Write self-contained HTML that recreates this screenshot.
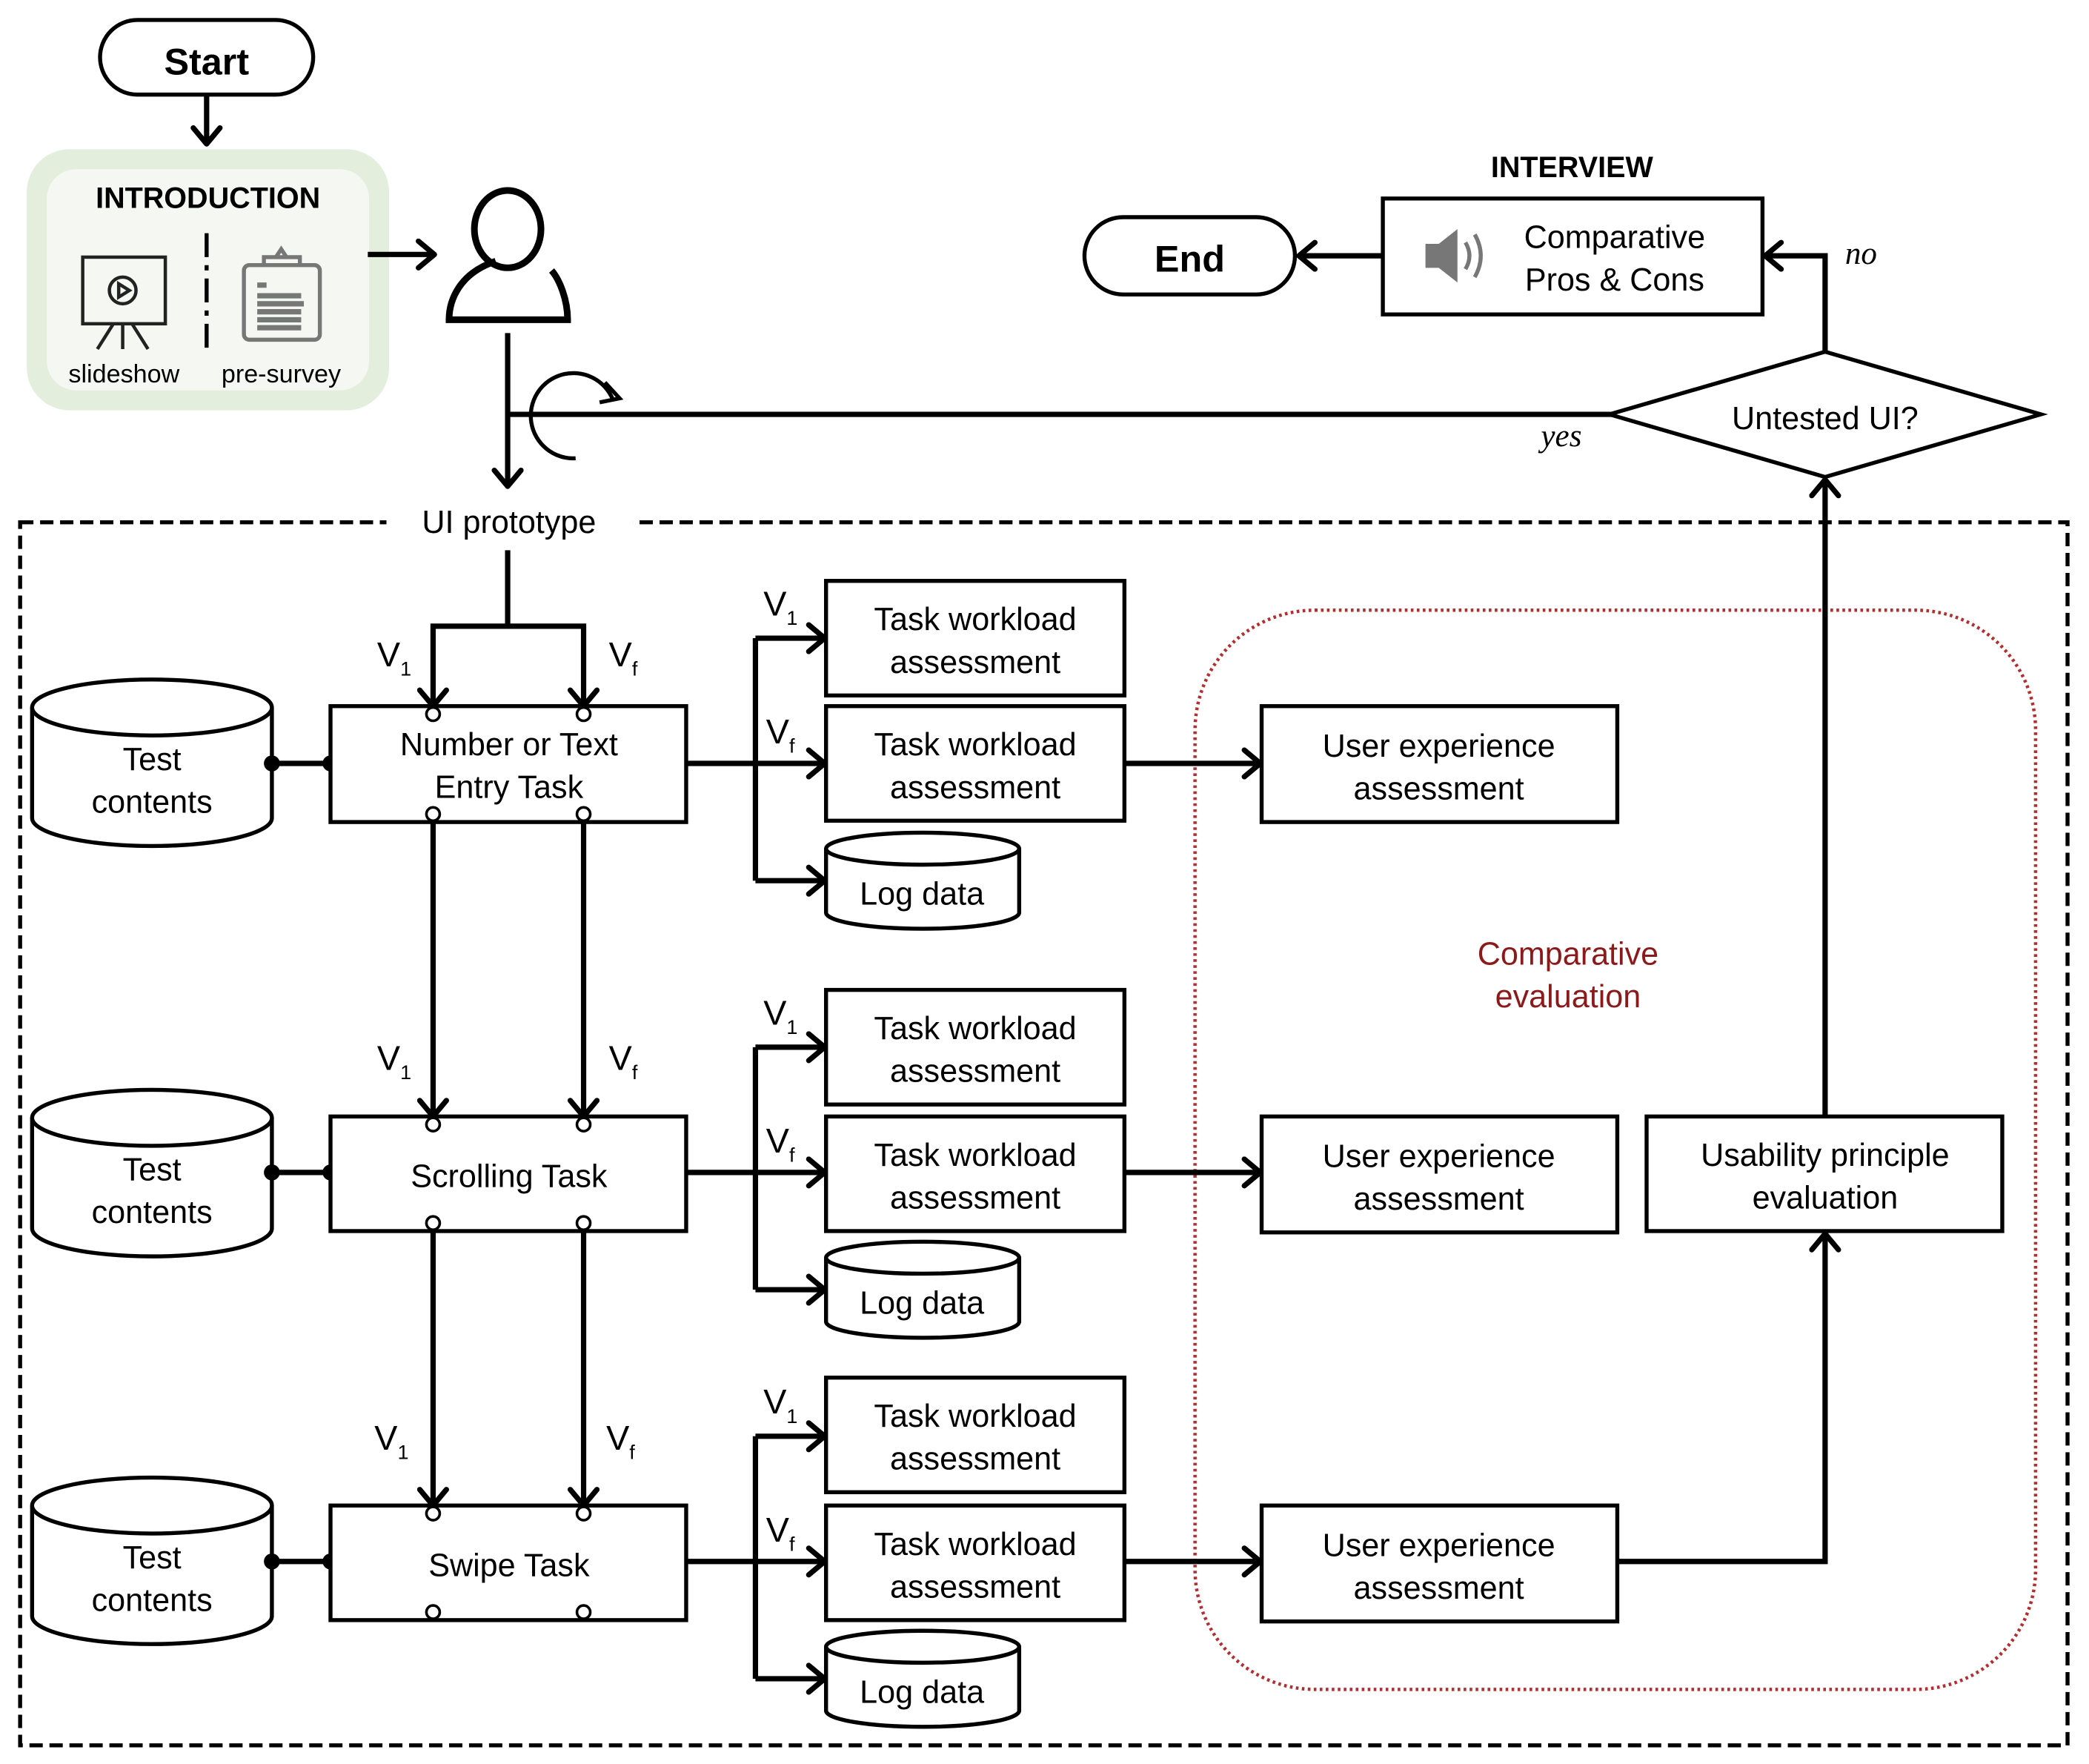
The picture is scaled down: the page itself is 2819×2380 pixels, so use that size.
<!DOCTYPE html>
<html><head><meta charset="utf-8"><style>
html,body{margin:0;padding:0;background:#fff}
svg{display:block}
text{font-family:"Liberation Sans",sans-serif;fill:#000}
</style></head><body>
<svg width="2819" height="2380" viewBox="0 0 1568 1324" xmlns="http://www.w3.org/2000/svg">
<defs>
<marker id="a" viewBox="0 0 20 24" refX="17" refY="12" markerWidth="20" markerHeight="24" orient="auto" markerUnits="userSpaceOnUse">
<path d="M5,2 L17,12 L5,22" fill="none" stroke="#000" stroke-width="4" stroke-linecap="round" stroke-linejoin="round"/>
</marker>
<g id="wl"><rect x="0" y="0" width="224" height="86" fill="#fff" stroke="#000" stroke-width="3"/><text x="112" y="37" font-size="24" text-anchor="middle">Task workload</text><text x="112" y="69" font-size="24" text-anchor="middle">assessment</text></g>
<g id="ux"><rect x="0" y="0" width="267" height="87" fill="#fff" stroke="#000" stroke-width="3"/><text x="133" y="38" font-size="24" text-anchor="middle">User experience</text><text x="133" y="70" font-size="24" text-anchor="middle">assessment</text></g>
<g id="log"><path d="M0,12 V60 A72,12 0 0 0 145,60 V12" fill="#fff" stroke="#000" stroke-width="3"/><ellipse cx="72.5" cy="12" rx="72.5" ry="12" fill="#fff" stroke="#000" stroke-width="3"/><text x="72" y="54" font-size="24" text-anchor="middle">Log data</text></g>
<g id="tc"><path d="M0,21 V104 A90,21 0 0 0 180,104 V21" fill="#fff" stroke="#000" stroke-width="3"/><ellipse cx="90" cy="21" rx="90" ry="21" fill="#fff" stroke="#000" stroke-width="3"/><text x="90" y="68" font-size="24" text-anchor="middle">Test</text><text x="90" y="100" font-size="24" text-anchor="middle">contents</text></g>
</defs>
<g stroke="#000" stroke-width="4" fill="none">
<rect x="75" y="15" width="160" height="56" rx="28" stroke-width="3"/>
<line x1="155" y1="72" x2="155" y2="108" marker-end="url(#a)"/>
</g>
<text x="155" y="56" font-size="28" font-weight="bold" text-anchor="middle">Start</text>
<rect x="20" y="112" width="272" height="196" rx="32" fill="#e3eedc"/>
<rect x="35" y="127" width="242" height="166" rx="22" fill="#f5f7f2"/>
<text x="156" y="156" font-size="22" font-weight="bold" text-anchor="middle">INTRODUCTION</text>
<line x1="155" y1="175" x2="155" y2="262" stroke="#000" stroke-width="3" stroke-dasharray="18,6,4,6"/>
<g stroke="#222" stroke-width="2.5" fill="none">
<rect x="62" y="193" width="62" height="50"/><circle cx="92" cy="218" r="10"/><path d="M89,213 L97,218 L89,223 Z"/>
<path d="M92,243 V262 M85,243 L73,262 M99,243 L111,262"/>
</g>
<g stroke="#777" fill="none">
<rect x="183" y="199" width="57" height="56" rx="4" stroke-width="3"/><path d="M198,199 V193 H225 V199 M207,193 L211,187 L215,193" stroke-width="3"/>
<path d="M193,214 H200 M193,222 H226 M193,228 H228 M193,234 H226 M193,240 H226 M193,246 H226" stroke-width="4"/>
</g>
<text x="93" y="287" font-size="19" text-anchor="middle">slideshow</text>
<text x="211" y="287" font-size="19" text-anchor="middle">pre-survey</text>
<g stroke="#000" stroke-width="4" fill="none">
<line x1="276" y1="191" x2="326" y2="191" marker-end="url(#a)"/>
<ellipse cx="381" cy="172" rx="25" ry="29" stroke-width="5"/>
<path d="M372,196 C345,205 337,225 337,240 H426 C426,225 420,210 414,203" stroke-width="5"/>
<line x1="381" y1="250" x2="381" y2="365" marker-end="url(#a)"/>
<path d="M460,300 A32,32 0 1 0 432,344" stroke-width="3"/>
<path d="M454,287 L465,299 L450,302" stroke-width="3"/>
<line x1="381" y1="311" x2="1210" y2="311"/>
<polygon points="1208,311 1370,264 1532,311 1370,358" fill="#fff" stroke-width="3"/>
<polyline points="1370,264 1370,192 1325,192" marker-end="url(#a)"/>
<rect x="1038" y="149" width="285" height="87" fill="#fff" stroke-width="3"/>
<line x1="1038" y1="192" x2="975" y2="192" marker-end="url(#a)"/>
<rect x="814" y="163" width="158" height="58" rx="29" stroke-width="3"/>
</g>
<text x="1370" y="322" font-size="24" text-anchor="middle">Untested UI?</text>
<text x="1172" y="335" font-size="24" font-style="italic" style="font-family:'Liberation Serif',serif" text-anchor="middle">yes</text>
<text x="1397" y="198" font-size="24" font-style="italic" style="font-family:'Liberation Serif',serif" text-anchor="middle">no</text>
<text x="1180" y="133" font-size="22" font-weight="bold" text-anchor="middle">INTERVIEW</text>
<path d="M1070,183 H1080 L1094,172 V212 L1080,201 H1070 Z" fill="#777"/>
<path d="M1100,182 Q1106,192 1100,202 M1107,176 Q1116,192 1107,208" stroke="#777" stroke-width="3" fill="none"/>
<text x="1212" y="186" font-size="24" text-anchor="middle">Comparative</text>
<text x="1212" y="218" font-size="24" text-anchor="middle">Pros &amp; Cons</text>
<text x="893" y="204" font-size="28" font-weight="bold" text-anchor="middle">End</text>
<rect x="15" y="392" width="1537" height="918" fill="none" stroke="#000" stroke-width="3" stroke-dasharray="10,5"/>
<rect x="290" y="378" width="185" height="30" fill="#fff"/>
<text x="382" y="400" font-size="24" text-anchor="middle">UI prototype</text>
<rect x="897" y="458" width="631" height="810" rx="90" fill="none" stroke="#b03030" stroke-width="2.5" stroke-dasharray="2,2.5"/>
<text x="1177" y="724" font-size="24" style="fill:#8b1a1a" text-anchor="middle">Comparative</text>
<text x="1177" y="756" font-size="24" style="fill:#8b1a1a" text-anchor="middle">evaluation</text>
<g stroke="#000" stroke-width="4" fill="none">
<polyline points="381,413 381,470 325,470 325,530" marker-end="url(#a)"/>
<polyline points="381,470 438,470 438,530" marker-end="url(#a)"/>
<line x1="325" y1="617" x2="325" y2="838" marker-end="url(#a)"/>
<line x1="438" y1="617" x2="438" y2="838" marker-end="url(#a)"/>
<line x1="325" y1="924" x2="325" y2="1130" marker-end="url(#a)"/>
<line x1="438" y1="924" x2="438" y2="1130" marker-end="url(#a)"/>
<polyline points="515,573 567,573"/><polyline points="567,479 567,661"/>
<line x1="567" y1="479" x2="619" y2="479" marker-end="url(#a)"/><line x1="567" y1="573" x2="619" y2="573" marker-end="url(#a)"/><line x1="567" y1="661" x2="619" y2="661" marker-end="url(#a)"/>
<polyline points="515,880 567,880"/><polyline points="567,786 567,968"/>
<line x1="567" y1="786" x2="619" y2="786" marker-end="url(#a)"/><line x1="567" y1="880" x2="619" y2="880" marker-end="url(#a)"/><line x1="567" y1="968" x2="619" y2="968" marker-end="url(#a)"/>
<polyline points="515,1172 567,1172"/><polyline points="567,1078 567,1260"/>
<line x1="567" y1="1078" x2="619" y2="1078" marker-end="url(#a)"/><line x1="567" y1="1172" x2="619" y2="1172" marker-end="url(#a)"/><line x1="567" y1="1260" x2="619" y2="1260" marker-end="url(#a)"/>
<line x1="844" y1="573" x2="946" y2="573" marker-end="url(#a)"/>
<line x1="844" y1="880" x2="946" y2="880" marker-end="url(#a)"/>
<line x1="844" y1="1172" x2="946" y2="1172" marker-end="url(#a)"/>
<polyline points="1214,1172 1370,1172 1370,926" marker-end="url(#a)"/>
<line x1="1370" y1="838" x2="1370" y2="360" marker-end="url(#a)"/>
<line x1="204" y1="573" x2="248" y2="573"/><line x1="204" y1="880" x2="248" y2="880"/><line x1="204" y1="1172" x2="248" y2="1172"/>
</g>
<use href="#tc" x="24" y="510"/><use href="#tc" x="24" y="818"/><use href="#tc" x="24" y="1109"/>
<g fill="#000"><circle cx="204" cy="573" r="6"/><circle cx="248" cy="573" r="6"/><circle cx="204" cy="880" r="6"/><circle cx="248" cy="880" r="6"/><circle cx="204" cy="1172" r="6"/><circle cx="248" cy="1172" r="6"/></g>
<g stroke="#000" stroke-width="3" fill="#fff">
<rect x="248" y="530" width="267" height="87"/><rect x="248" y="838" width="267" height="86"/><rect x="248" y="1130" width="267" height="86"/>
<rect x="1236" y="838" width="267" height="86"/>
</g>
<g stroke="#000" stroke-width="2" fill="#fff">
<circle cx="325" cy="536" r="5"/><circle cx="438" cy="536" r="5"/><circle cx="325" cy="611" r="5"/><circle cx="438" cy="611" r="5"/>
<circle cx="325" cy="844" r="5"/><circle cx="438" cy="844" r="5"/><circle cx="325" cy="918" r="5"/><circle cx="438" cy="918" r="5"/>
<circle cx="325" cy="1136" r="5"/><circle cx="438" cy="1136" r="5"/><circle cx="325" cy="1210" r="5"/><circle cx="438" cy="1210" r="5"/>
</g>
<g font-size="24" text-anchor="middle">
<text x="382" y="567">Number or Text</text><text x="382" y="599">Entry Task</text>
<text x="382" y="891">Scrolling Task</text>
<text x="382" y="1183">Swipe Task</text>
<text x="1370" y="875">Usability principle</text><text x="1370" y="907">evaluation</text>
</g>
<use href="#wl" x="620" y="436"/><use href="#wl" x="620" y="530"/><use href="#log" x="620" y="625"/>
<use href="#wl" x="620" y="743"/><use href="#wl" x="620" y="838"/><use href="#log" x="620" y="932"/>
<use href="#wl" x="620" y="1034"/><use href="#wl" x="620" y="1130"/><use href="#log" x="620" y="1224"/>
<use href="#ux" x="947" y="530"/><use href="#ux" x="947" y="838"/><use href="#ux" x="947" y="1130"/>
<g font-size="26">
<text x="283" y="500">V<tspan font-size="15" dy="7">1</tspan></text><text x="457" y="500">V<tspan font-size="15" dy="7">f</tspan></text>
<text x="283" y="803">V<tspan font-size="15" dy="7">1</tspan></text><text x="457" y="803">V<tspan font-size="15" dy="7">f</tspan></text>
<text x="281" y="1088">V<tspan font-size="15" dy="7">1</tspan></text><text x="455" y="1088">V<tspan font-size="15" dy="7">f</tspan></text>
<text x="573" y="462">V<tspan font-size="15" dy="7">1</tspan></text><text x="575" y="558">V<tspan font-size="15" dy="7">f</tspan></text>
<text x="573" y="769">V<tspan font-size="15" dy="7">1</tspan></text><text x="575" y="865">V<tspan font-size="15" dy="7">f</tspan></text>
<text x="573" y="1061">V<tspan font-size="15" dy="7">1</tspan></text><text x="575" y="1157">V<tspan font-size="15" dy="7">f</tspan></text>
</g>
</svg>
</body></html>
